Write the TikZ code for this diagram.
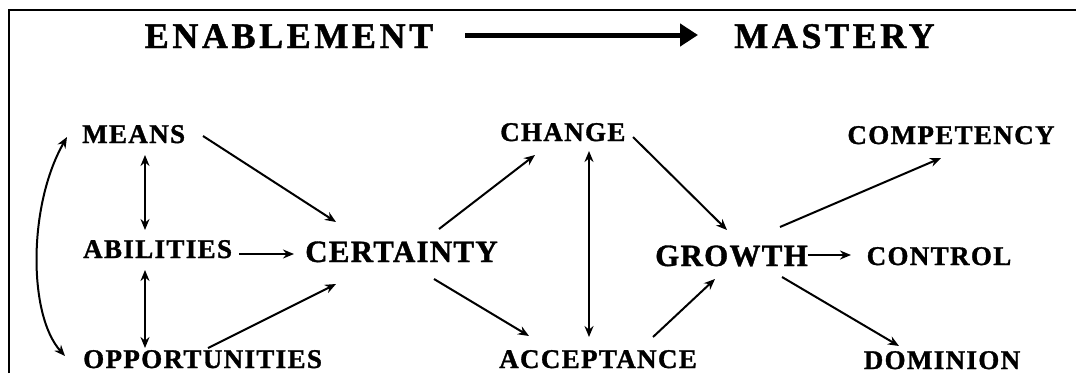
\documentclass[tikz,border=0pt]{standalone}
\usepackage{fontspec}
\setmainfont{Liberation Serif}
\newfontfamily\lblfont{Liberation Serif}[LetterSpace=5, BoldFeatures={FakeBold=1.2}]
\newfontfamily\bigfont{Liberation Serif}[LetterSpace=4, BoldFeatures={FakeBold=1.2}]
\newfontfamily\ttlfont{Liberation Serif}[LetterSpace=10, BoldFeatures={FakeBold=1.2}]
\usetikzlibrary{arrows.meta}
\begin{document}
\begin{tikzpicture}[x=1pt,y=-1pt,
  lbl/.style={inner sep=0pt, anchor=base west, font=\lblfont\bfseries\fontsize{27}{31}\selectfont},
  lblc/.style={lbl, anchor=base},
  big/.style={inner sep=0pt, anchor=base, font=\bigfont\bfseries\fontsize{31}{35}\selectfont},
  ttl/.style={inner sep=0pt, anchor=base, font=\ttlfont\bfseries\fontsize{36}{40}\selectfont},
  tip/.style={Stealth[length=11pt,width=9pt]},
  conn/.style={line width=2pt, -{Stealth[length=11pt,width=9pt]}},
  dconn/.style={line width=2pt, {Stealth[length=11pt,width=9pt]}-{Stealth[length=11pt,width=9pt]}}]
\useasboundingbox (0,0) rectangle (1076,373);
\fill[white] (0,0) rectangle (1076,373);
% frame
\draw[line width=2.5pt] (9,373) -- (9,10) -- (1076,10);
% title
\node[ttl] (en) at (289,48) {ENABLEMENT};
\node[ttl] (ma) at (834.5,48) {MASTERY};
\draw[line width=5pt, -{Triangle[length=18pt,width=22pt]}] ([shift={(176,-13)}]en.base) -- ([shift={(-136.5,-13)}]ma.base);
% nodes
\node[lbl] (means) at (82,143) {MEANS};
\node[lbl] (abil) at (83,258) {ABILITIES};
\node[lbl] (opp) at (83,368) {OPPORTUNITIES};
\node[big] (cert) at (401.5,262) {CERTAINTY};
\node[lbl] (change) at (500,141) {CHANGE};
\node[lbl] (acc) at (499,368) {ACCEPTANCE};
\node[big] (growth) at (731.5,266) {GROWTH};
\node[lblc] (control) at (939,265) {CONTROL};
\node[lblc] (comp) at (951,144) {COMPETENCY};
\node[lblc] (dom) at (942,369) {DOMINION};
% connectors
\draw[dconn] ([shift={(-18,-12)}]opp.base west) .. controls (28,315) and (28,205) .. ([shift={(-15,-6)}]means.base west);
\draw[dconn] ([shift={(63,12)}]means.base west) -- ([shift={(62,-28)}]abil.base west);
\draw[dconn] ([shift={(62,12)}]abil.base west) -- ([shift={(62,-20)}]opp.base west);
\draw[conn] ([shift={(156,-4)}]abil.base west) -- ([shift={(-107.5,-8)}]cert.base);
\draw[conn] ([shift={(121,-7)}]means.base west) -- ([shift={(-65.5,-40)}]cert.base);
\draw[conn] ([shift={(125,-20)}]opp.base west) -- ([shift={(-65.5,22)}]cert.base);
\draw[conn] ([shift={(37.5,-33)}]cert.base) -- ([shift={(35,14)}]change.base west);
\draw[conn] ([shift={(32.5,17)}]cert.base) -- ([shift={(30,-32)}]acc.base west);
\draw[dconn] ([shift={(89,10)}]change.base west) -- ([shift={(90,-31)}]acc.base west);
\draw[conn] ([shift={(133,-4)}]change.base west) -- ([shift={(-4.5,-36)}]growth.base);
\draw[conn] ([shift={(154,-31)}]acc.base west) -- ([shift={(-16.5,13)}]growth.base);
\draw[conn] ([shift={(76.5,-11)}]growth.base) -- ([shift={(-88,-10)}]control.base);
\draw[conn] ([shift={(48.5,-39)}]growth.base) -- ([shift={(-10,14)}]comp.base);
\draw[conn] ([shift={(50.5,11)}]growth.base) -- ([shift={(-43,-23)}]dom.base);
\end{tikzpicture}
\end{document}
